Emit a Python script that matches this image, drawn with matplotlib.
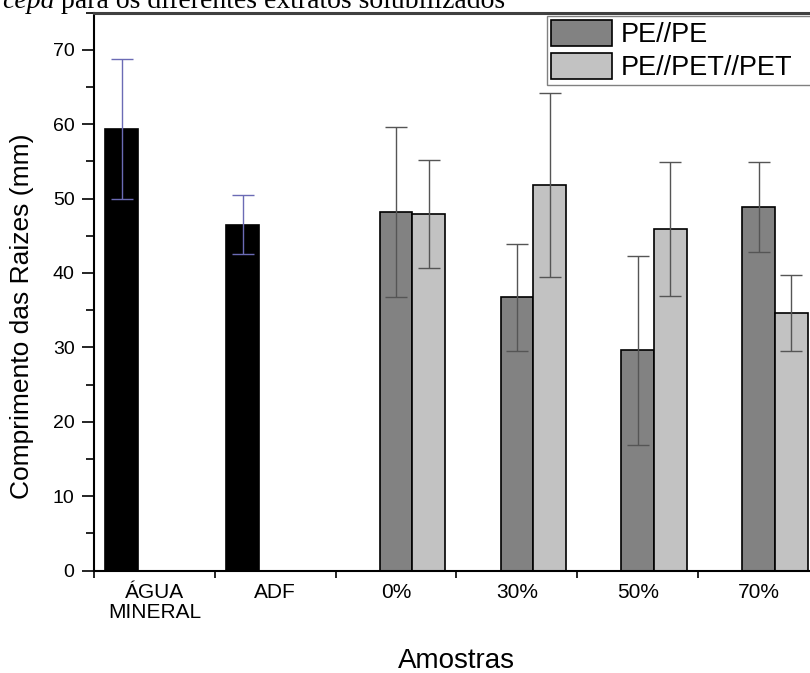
import numpy as np
import matplotlib
matplotlib.use('Agg')
import matplotlib.pyplot as plt
from matplotlib.patches import Patch
from matplotlib.ticker import MultipleLocator

plt.rcParams['font.family'] = ['Liberation Sans', 'DejaVu Sans']

# comprimento medio das raizes (mm) e desvio padrao
categorias = ['ÁGUA\nMINERAL', 'ADF', '0%', '30%', '50%', '70%']
controles = [59.3, 46.5]
controles_err = [9.4, 4.0]
pe_pe = [48.2, 36.7, 29.6, 48.8]
pe_pe_err = [11.4, 7.15, 12.7, 6.05]
pe_pet = [47.9, 51.8, 45.9, 34.6]
pe_pet_err = [7.3, 12.4, 9.05, 5.15]
legendas = ['PE//PE', 'PE//PET//PET']

x = np.arange(len(categorias))
w = 0.27

fig = plt.figure(figsize=(8.1, 6.73), dpi=100)
ax = fig.add_axes([0.116, 0.1523, 0.8951, 0.8291])

err_kw = dict(elinewidth=1, capsize=8, capthick=1)
ax.bar(x[:2] - w, controles, w, color='black', edgecolor='black', lw=1.2,
       yerr=controles_err, error_kw=dict(ecolor='#6b6bb5', **err_kw))
ax.bar(x[2:], pe_pe, w, color='#828282', edgecolor='black', lw=1.2,
       yerr=pe_pe_err, error_kw=dict(ecolor='#555555', **err_kw))
ax.bar(x[2:] + w, pe_pet, w, color='#c2c2c2', edgecolor='black', lw=1.2,
       yerr=pe_pet_err, error_kw=dict(ecolor='#555555', **err_kw))

ax.set_xlim(-0.5, 5.5)
ax.set_ylim(0, 75)
ax.set_yticks(range(0, 71, 10))
ax.yaxis.set_minor_locator(MultipleLocator(5))
ax.tick_params(axis='y', which='major', direction='out', length=9, width=1.2,
               labelsize=14, pad=5)
ax.tick_params(axis='y', which='minor', direction='out', length=5.5, width=1.2)

ax.set_xticks(x)
ax.set_xticklabels(categorias)
ax.set_xticks(np.arange(-0.5, 6, 1), minor=True)
ax.tick_params(axis='x', which='major', length=0, labelsize=15, pad=9)
ax.tick_params(axis='x', which='minor', direction='out', length=5, width=1.2)
for lbl in ax.get_xticklabels():
    lbl.set_linespacing(1.05)

ax.spines['right'].set_visible(False)
ax.spines['top'].set_color('#404040')
ax.spines['top'].set_linewidth(2.2)
ax.spines['left'].set_linewidth(1.5)
ax.spines['bottom'].set_linewidth(1.5)

ax.set_ylabel('Comprimento das Raizes (mm)', fontsize=19, va='center')
ax.yaxis.set_label_coords(22 / 810, 1 - 316 / 673, transform=fig.transFigure)
ax.set_xlabel('Amostras', fontsize=20, va='baseline')
ax.xaxis.set_label_coords(456 / 810, 1 - 668 / 673, transform=fig.transFigure)

handles = [Patch(facecolor='#828282', edgecolor='black', lw=1.2),
           Patch(facecolor='#c2c2c2', edgecolor='black', lw=1.2)]
leg = ax.legend(handles, legendas, loc='upper left',
                bbox_to_anchor=(547 / 810, 1 - 16 / 673, 300 / 810, 0),
                bbox_transform=fig.transFigure, mode='expand', borderaxespad=0,
                fontsize=19.5, handlelength=2.26, handleheight=1.07,
                labelspacing=0.2, handletextpad=0.33, borderpad=0.15,
                fancybox=False, framealpha=1)
leg.get_frame().set_edgecolor('#808080')
leg.get_frame().set_linewidth(1)

# legenda da figura no documento, cortada no topo
t1 = fig.text(2 / 810, 1 - 8.3 / 673, 'cepa', family='Liberation Serif',
              style='italic', fontsize=20, va='baseline')
ax.annotate(' para os diferentes extratos solubilizados', xy=(1, 0), xycoords=t1,
            va='bottom', ha='left', family='Liberation Serif', fontsize=20)

fig.savefig('out.png', dpi=100)
